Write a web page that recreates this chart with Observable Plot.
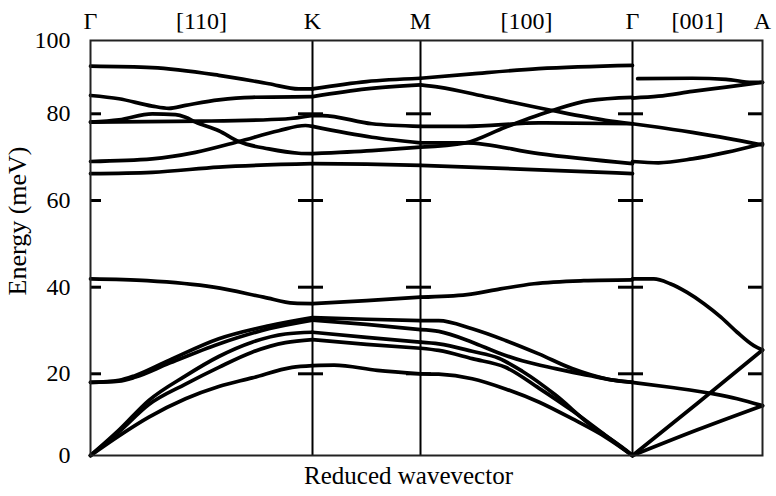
<!DOCTYPE html>
<html><head><meta charset="utf-8">
<script src="https://cdn.jsdelivr.net/npm/d3@7"></script>
<script src="https://cdn.jsdelivr.net/npm/@observablehq/plot@0.6"></script>
<style>body{margin:0;background:#fff} svg text{font-family:"Liberation Serif",serif !important;}</style>
</head><body><div id="chart"></div>
<script>
// Symmetry points along the path Γ–K–M–Γ–A (segment index)
const symmetryPoints = [0, 1, 2, 3, 4];
const topTickValues = [0, 0.5, 1, 2, 2.5, 3, 3.5, 4];
const topTickLabels = ["Γ", "[110]", "K", "M", "[100]", "Γ", "[001]", "A"];
const energyTicks = [0, 20, 40, 60, 80, 100];
const innerTicks = [20, 40, 60, 80];

// Each branch: [fraction along segment, energy (meV)]
const branchesGK = [
  [[0,93.0],[0.278,92.6],[0.578,90.5],[0.803,88.2],[0.938,86.8],[1,86.8]],
  [[0,85.0],[0.128,84.1],[0.278,82.1],[0.353,81.5],[0.428,82.3],[0.578,83.8],[0.728,84.5],[1,84.7]],
  [[0,78.1],[0.5,78.3],[0.878,78.8],[1,79.6]],
  [[0,78.1],[0.128,78.6],[0.278,80.0],[0.383,79.8],[0.428,79.2],[0.473,78.1],[0.578,76.1],[0.668,73.6],[0.803,71.9],[0.938,70.9],[1,70.8]],
  [[0,69.0],[0.278,69.6],[0.473,71.1],[0.668,73.6],[0.848,76.1],[0.968,77.3],[1,77.1]],
  [[0,66.2],[0.278,66.5],[0.578,67.7],[1,68.5]],
  [[0,41.9],[0.255,41.5],[0.555,40.0],[0.78,37.7],[0.916,36.3],[1,36.2]],
  [[0,17.9],[0.128,18.4],[0.203,19.6],[0.353,23.1],[0.578,28.1],[0.803,31.1],[1,33.0]],
  [[0,17.9],[0.128,18.2],[0.203,19.2],[0.353,22.4],[0.578,26.9],[0.803,30.4],[1,32.4]],
  [[0,0],[0.128,6.2],[0.263,13.5],[0.428,19.5],[0.578,24.0],[0.728,27.3],[0.878,29.2],[1,29.6]],
  [[0,0],[0.128,5.8],[0.263,12.5],[0.428,17.5],[0.578,21.5],[0.728,25.0],[0.878,27.2],[1,27.9]],
  [[0,0],[0.128,4.8],[0.263,9.4],[0.428,13.9],[0.578,16.9],[0.728,19.0],[0.908,21.5],[1,21.9]]
];
const branchesKM = [
  [[0,86.8],[0.5,88.8],[1,89.7]],
  [[0,84.7],[0.5,86.8],[1,87.9]],
  [[0,79.6],[0.09,79.6],[0.55,77.7],[1,77.1]],
  [[0,77.1],[0.55,74.6],[1,73.3]],
  [[0,70.8],[0.55,71.5],[1,72.3]],
  [[0,68.5],[0.5,68.4],[1,68.1]],
  [[0,36.2],[0.5,36.9],[1,37.7]],
  [[0,33.0],[0.5,32.6],[1,32.3]],
  [[0,32.4],[0.5,31.4],[1,30.2]],
  [[0,29.6],[0.5,28.4],[1,27.3]],
  [[0,27.9],[0.5,26.8],[1,25.9]],
  [[0,21.9],[0.2,22.0],[0.6,20.8],[1,20.0]]
];
const branchesMG = [
  [[0,89.7],[0.244,90.9],[0.558,92.3],[1,93.2]],
  [[0,87.9],[0.086,87.3],[0.322,84.5],[0.621,80.9],[0.873,78.5],[1,77.7]],
  [[0,77.1],[0.212,77.1],[0.558,77.9],[1,77.7]],
  [[0,72.3],[0.212,73.3],[0.4,76.9],[0.621,80.9],[0.794,83.6],[1,84.5]],
  [[0,73.3],[0.212,73.3],[0.558,70.8],[1,68.5]],
  [[0,68.1],[0.5,67.2],[1,66.2]],
  [[0,37.7],[0.22,38.3],[0.377,39.6],[0.535,40.8],[0.77,41.5],[1,41.7]],
  [[0,32.3],[0.086,32.3],[0.244,30.4],[0.401,27.7],[0.558,24.6],[0.715,21.2],[0.873,18.8],[1,17.9]],
  [[0,30.2],[0.086,29.8],[0.244,27.3],[0.369,24.8],[0.48,23.0],[0.637,21.2],[0.794,19.6],[0.9,18.5],[1,17.9]],
  [[0,27.3],[0.086,26.9],[0.244,25.2],[0.369,23.6],[0.48,20.6],[0.637,14.8],[0.794,7.8],[0.951,2.0],[1,0]],
  [[0,25.9],[0.086,25.4],[0.244,23.5],[0.401,21.5],[0.558,16.5],[0.715,11.0],[0.873,4.9],[1,0]],
  [[0,20.0],[0.086,19.9],[0.244,18.8],[0.401,16.3],[0.558,13.1],[0.715,9.0],[0.873,4.5],[1,0]]
];
const branchesGA = [
  [[0.04,89.6],[0.46,89.7],[0.72,89.4],[0.92,88.6],[1,88.6]],
  [[0,84.3],[0.2,84.8],[0.46,86.1],[0.72,87.3],[1,88.6]],
  [[0,77.7],[0.2,76.9],[0.46,75.7],[0.72,74.4],[1,72.8]],
  [[0,69.0],[0.2,68.7],[0.46,69.6],[0.72,71.1],[1,73.1]],
  [[0,41.9],[0.164,41.9],[0.29,40.8],[0.42,38.8],[0.55,36.2],[0.68,33.1],[0.805,29.6],[0.933,26.5],[1,25.5]],
  [[0,17.9],[0.29,16.7],[0.625,15.1],[0.805,13.9],[1,12.2]],
  [[0,0],[0.5,12.8],[1,25.5]],
  [[0,0],[0.5,6.3],[1,12.2]]
];

const segments = [branchesGK, branchesKM, branchesMG, branchesGA];
const points = [];
segments.forEach((branches, s) =>
  branches.forEach((br, b) =>
    br.forEach(([f, e]) => points.push({x: s + f, e, id: s + "-" + b}))));

const tickRows = symmetryPoints.flatMap(p => innerTicks.map(e => ({p, e})));
const font = "Liberation Serif";

const chart = Plot.plot({
  width: 776,
  height: 496,
  marginLeft: 90,
  marginRight: 14,
  marginTop: 40,
  marginBottom: 41,
  style: {fontFamily: font, fontSize: "23px", background: "white", color: "black"},
  x: {type: "linear", domain: symmetryPoints, range: [90, 312, 420, 632, 762]},
  y: {type: "linear", domain: energyTicks, range: [455, 373.3, 286.7, 200, 113.3, 40]},
  marks: [
    Plot.line(points, {x: "x", y: "e", z: "id", stroke: "black", strokeWidth: 3.7, curve: "monotone-x"}),
    Plot.ruleX(symmetryPoints.slice(1, 4), {stroke: "black", strokeWidth: 2}),
    Plot.ruleY(tickRows.filter(d => d.p < 4), {x1: d => d.p, x2: d => d.p, y: "e", insetRight: -11, stroke: "black", strokeWidth: 3}),
    Plot.ruleY(tickRows.filter(d => d.p > 0), {x1: d => d.p, x2: d => d.p, y: "e", insetLeft: -14, stroke: "black", strokeWidth: 3}),
    Plot.frame({stroke: "#222", strokeWidth: 2}),
    Plot.axisY(energyTicks, {tickSize: 0, tickPadding: 20, fontSize: 24, fontFamily: font, label: null}),
    Plot.axisX(topTickValues, {anchor: "top", tickSize: 0, tickPadding: 12, fontSize: 24, fontFamily: font, label: null,
      tickFormat: d => topTickLabels[topTickValues.indexOf(d)]}),
    Plot.text(["Energy (meV)"], {text: d => d, frameAnchor: "left", textAnchor: "middle", rotate: -90, dx: -73, dy: -27, fontSize: 26, fontFamily: font}),
    Plot.text(["Reduced wavevector"], {text: d => d, frameAnchor: "bottom", textAnchor: "middle", dx: -18, dy: 28, fontSize: 25, fontFamily: font})
  ]
});
document.getElementById("chart").appendChild(chart);
</script>
</body></html>
